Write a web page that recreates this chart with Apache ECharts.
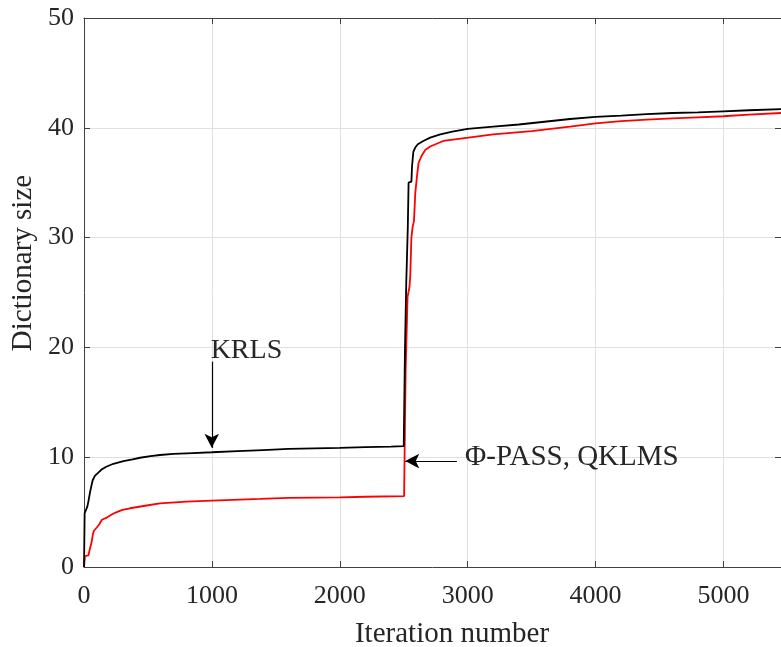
<!DOCTYPE html>
<html><head><meta charset="utf-8">
<script src="https://cdn.jsdelivr.net/npm/echarts@6/dist/echarts.min.js"></script>
<style>html,body{margin:0;padding:0;background:#fff}#c{width:781px;height:647px}</style>
</head><body><div id="c"></div>
<script>
const xTicks = [0, 1000, 2000, 3000, 4000, 5000];
const yTicks = [0, 10, 20, 30, 40, 50];
const krlsX = [0,5,12,26,35,47,58,68,85,112,140,178,230,308,380,438,520,594,700,850,1000,1200,1400,1600,1800,2000,2200,2400,2500,2504,2510,2520,2525,2532,2538,2560,2565,2575,2590,2610,2653,2707,2786,2880,3000,3200,3400,3600,3800,4000,4200,4400,4600,4800,5000,5200,5450];
const krlsY = [0,4.9,5.0,5.5,6.0,6.8,7.4,7.9,8.3,8.6,8.9,9.15,9.4,9.65,9.8,9.95,10.1,10.2,10.3,10.38,10.45,10.55,10.65,10.75,10.8,10.85,10.92,10.97,11.0,11.05,20,26,28,31,35,35.1,36.5,37.8,38.2,38.5,38.8,39.1,39.4,39.65,39.9,40.1,40.3,40.55,40.8,41.0,41.1,41.25,41.35,41.4,41.5,41.6,41.7];
const passX = [0,8,34,45,60,70,78,100,120,140,178,220,256,300,360,490,594,800,1000,1378,1600,2000,2200,2503,2506,2515,2530,2545,2551,2560,2570,2580,2590,2603,2616,2642,2670,2707,2809,2900,3005,3200,3500,3800,4000,4200,4400,4600,4800,5000,5200,5450];
const passY = [0,1.0,1.05,1.6,2.3,3.0,3.3,3.6,3.9,4.3,4.5,4.8,5.0,5.2,5.35,5.6,5.8,5.95,6.05,6.2,6.3,6.35,6.4,6.45,6.5,18,24.6,25.5,26.5,30,31,31.5,34,35.5,36.8,37.5,38.0,38.3,38.8,38.95,39.1,39.4,39.7,40.1,40.4,40.6,40.75,40.85,40.95,41.05,41.2,41.35];
const krlsLabel = 'KRLS';
const passLabel = 'Φ-PASS, QKLMS';
const krlsArrow = [[999, 18.7], [999, 10.85]];
const passArrow = [[2916, 9.65], [2512, 9.65]];
const krlsTextAt = [1270, 19.7];
const passTextAt = [2980, 10.0];

const F = 'Liberation Serif';
const txt = '#262626';
const axisCol = '#404040';
const gridCol = '#e0e0e0';
const chart = echarts.init(document.getElementById('c'), null, {renderer: 'canvas'});
const zip = (a, b) => a.map((v, i) => [v, b[i]]);
const hidden = {show: false};
const xBase = {type: 'value', min: 0, max: 5450, interval: 1000,
  axisLine: {show: true, onZero: false, lineStyle: {color: axisCol, width: 1}},
  axisTick: {show: true, inside: true, length: 6, lineStyle: {color: axisCol}}};
const yBase = {type: 'value', min: 0, max: 50, interval: 10,
  axisLine: {show: true, onZero: false, lineStyle: {color: axisCol, width: 1}},
  axisTick: {show: true, inside: true, length: 6, lineStyle: {color: axisCol}}};
chart.setOption({
  animation: false,
  grid: {left: 84, top: 18, right: 0, bottom: 80, containLabel: false, outerBoundsMode: 'none'},
  xAxis: [
    Object.assign({}, xBase, {position: 'bottom',
      axisLabel: {color: txt, fontFamily: F, fontSize: 26, margin: 16, showMaxLabel: false,
        formatter: v => xTicks.includes(v) ? String(v) : ''},
      splitLine: {show: true, lineStyle: {color: gridCol, width: 1}}}),
    Object.assign({}, xBase, {position: 'top', axisLabel: hidden, splitLine: hidden})
  ],
  yAxis: [
    Object.assign({}, yBase, {position: 'left',
      axisLabel: {color: txt, fontFamily: F, fontSize: 26, margin: 10,
        formatter: v => yTicks.includes(v) ? String(v) : ''},
      splitLine: {show: true, lineStyle: {color: gridCol, width: 1}}}),
    Object.assign({}, yBase, {position: 'right', axisLabel: hidden, splitLine: hidden})
  ],
  series: [
    {type: 'line', name: 'PASS', data: zip(passX, passY), showSymbol: false, symbol: 'none',
      lineStyle: {color: '#ff0000', width: 1.8}, z: 3},
    {type: 'line', name: 'KRLS', data: zip(krlsX, krlsY), showSymbol: false, symbol: 'none',
      lineStyle: {color: '#000000', width: 1.8}, z: 4,
      markLine: {silent: true, symbol: ['none', 'arrow'], symbolSize: [11, 14],
        lineStyle: {color: '#000', width: 1.2, type: 'solid'}, label: {show: false},
        data: [
          [{coord: krlsArrow[0]}, {coord: krlsArrow[1]}],
          [{coord: passArrow[0]}, {coord: passArrow[1]}]
        ]}}
  ]
});
const p1 = chart.convertToPixel({xAxisIndex: 0, yAxisIndex: 0}, krlsTextAt);
const p2 = chart.convertToPixel({xAxisIndex: 0, yAxisIndex: 0}, passTextAt);
chart.setOption({graphic: [
  {type: 'text', x: p1[0], y: p1[1], style: {text: krlsLabel, font: '28px "' + F + '"', fill: txt, textAlign: 'center', textVerticalAlign: 'middle'}},
  {type: 'text', x: p2[0], y: p2[1], style: {text: passLabel, font: '29px "' + F + '"', fill: txt, textAlign: 'left', textVerticalAlign: 'middle'}},
  {type: 'text', x: 452, y: 634, style: {text: 'Iteration number', font: '29px "' + F + '"', fill: txt, textAlign: 'center', textVerticalAlign: 'middle'}},
  {type: 'text', x: 23, y: 263, rotation: Math.PI / 2, style: {text: 'Dictionary size', font: '29px "' + F + '"', fill: txt, textAlign: 'center', textVerticalAlign: 'middle'}}
]});
</script></body></html>
